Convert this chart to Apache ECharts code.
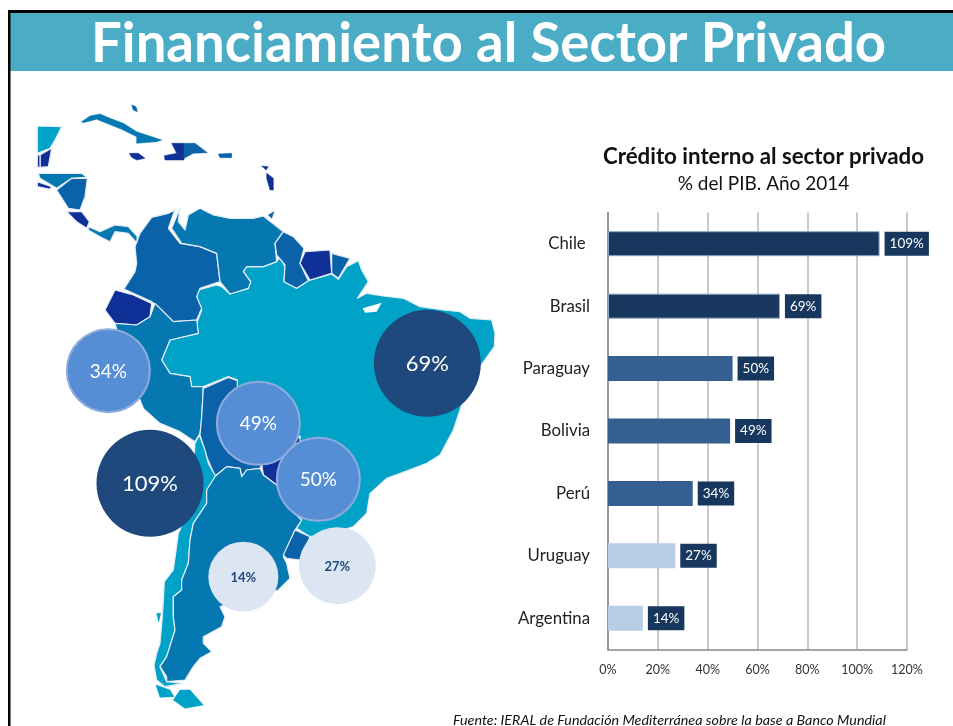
<!DOCTYPE html>
<html><head><meta charset="utf-8">
<style>html,body{margin:0;padding:0;background:#fff}#c{width:953px;height:726px}</style>
<script src="https://cdn.jsdelivr.net/npm/echarts@6/dist/echarts.min.js"></script>
</head><body><div id="c"></div>
<script>
// Bar chart data
const categories = ["Chile ","Brasil","Paraguay","Bolivia","Perú","Uruguay","Argentina"];
const creditValues = [109,69,50,49,34,27,14];
const barColors = ["#17375e","#17375e","#365f91","#365f91","#365f91","#b8cce4","#b8cce4"];
const xTicks = [0,20,40,60,80,100,120];

// Bubbles placed on the map (map units)
const bubbleLabels = ["34%","69%","49%","50%","109%","14%","27%"];
const bubbleX = [325,1282,775,955,450,730,1012];
const bubbleY = [1112,1090,1270,1438,1450,1730,1697];
const bubbleSizes = [83,107,83,83,107,70,77];
const bubbleColors = ["#558ed5","#1f497d","#558ed5","#558ed5","#1f497d","#dce6f2","#dce6f2"];

// Map outlines (map units: 3 per pixel)
const C1="#00a3c7",C2="#0577b1",C3="#0a62a9",C4="#0f3096";
const mapNames = ["Brasil","Colombia","Venezuela","Guyana","Surinam","Guayana Fr.","Ecuador","Perú","Bolivia","Paraguay","Chile","Argentina","Uruguay","México","Belice","Guatemala","Honduras","El Salvador","Nicaragua","Costa Rica","Panamá","Cuba","Jamaica","Haití","Rep. Dominicana","Puerto Rico","Bahamas","Antillas","Antillas 2","Trinidad","Tierra del Fuego","Isla Sur","Isla Chiloé"];
const mapFills = [C1,C3,C2,C3,C4,C3,C4,C2,C3,C4,C1,C2,C3,C1,C4,C4,C2,C4,C3,C4,C2,C2,C4,C4,C3,C3,C3,C4,C4,C3,C1,C1,C1];
const mapShapes = [
 [[595,870],[650,855],[665,860],[690,882],[745,865],[752,845],[730,815],[740,800],[790,800],[830,785],[840,770],[855,800],[852,845],[890,865],[925,842],[995,822],[1015,838],[1040,800],[1075,782],[1085,810],[1105,845],[1072,895],[1100,880],[1150,888],[1210,895],[1260,920],[1330,930],[1380,935],[1410,955],[1475,960],[1485,1000],[1483,1040],[1440,1100],[1400,1170],[1380,1230],[1360,1290],[1320,1365],[1280,1390],[1215,1415],[1160,1435],[1110,1480],[1100,1540],[1060,1580],[1000,1600],[930,1610],[890,1585],[905,1560],[860,1500],[830,1450],[900,1310],[712,1180],[712,1140],[685,1130],[610,1160],[575,1160],[570,1130],[510,1120],[485,1080],[510,1020],[595,1000],[590,970],[605,930],[590,890]],
 [[530,628],[505,640],[455,652],[420,700],[405,740],[410,790],[405,815],[372,867],[455,905],[475,920],[520,965],[590,960],[605,925],[590,890],[600,865],[660,845],[650,760],[600,740],[540,730],[505,685],[525,628]],
 [[540,625],[515,685],[545,730],[600,740],[650,760],[660,845],[690,882],[745,865],[752,845],[730,815],[740,800],[790,800],[830,785],[825,730],[850,695],[790,648],[760,655],[690,655],[640,645],[600,625],[565,645],[555,690],[535,665]],
 [[850,695],[825,730],[830,765],[855,795],[852,845],[890,865],[925,842],[900,790],[912,745],[880,710]],
 [[915,755],[990,750],[995,820],[930,840],[900,790]],
 [[995,760],[1050,775],[1015,835],[995,820]],
 [[345,870],[400,885],[455,910],[450,950],[410,975],[345,970],[315,930]],
 [[345,970],[410,975],[450,950],[465,910],[520,965],[590,960],[595,1000],[510,1020],[485,1080],[510,1120],[570,1130],[575,1160],[610,1160],[605,1260],[600,1300],[585,1325],[540,1295],[480,1270],[430,1225],[380,1100]],
 [[610,1165],[685,1132],[712,1142],[712,1180],[900,1310],[790,1385],[780,1405],[740,1410],[725,1430],[720,1405],[680,1400],[645,1428],[620,1370],[600,1305],[605,1250]],
 [[785,1390],[790,1425],[830,1455],[870,1470],[900,1380],[900,1310]],
 [[598,1305],[615,1350],[625,1390],[645,1425],[660,1432],[620,1470],[620,1510],[580,1570],[570,1620],[565,1690],[545,1740],[545,1770],[520,1790],[520,1850],[525,1890],[500,1970],[480,2000],[500,2045],[550,2050],[495,2060],[470,2040],[462,1995],[470,1960],[480,1930],[487,1850],[490,1800],[493,1745],[520,1710],[535,1600],[540,1590],[570,1500],[580,1400],[585,1330]],
 [[680,1400],[645,1430],[620,1470],[620,1510],[580,1570],[570,1620],[565,1690],[545,1740],[545,1770],[520,1790],[520,1850],[525,1890],[500,1970],[480,2000],[500,2030],[500,2045],[555,2040],[580,2000],[600,1975],[635,1955],[610,1930],[610,1910],[665,1880],[675,1850],[660,1820],[835,1770],[870,1735],[860,1690],[850,1670],[885,1590],[905,1560],[860,1520],[830,1455],[790,1425],[780,1405],[740,1410],[725,1430],[720,1405]],
 [[885,1590],[930,1610],[900,1680],[860,1675],[850,1665]],
 [[112,378],[185,380],[165,420],[150,445],[112,460]],
 [[120,465],[155,445],[145,500],[120,502]],
 [[112,465],[120,465],[120,502],[112,502]],
 [[115,520],[245,520],[260,532],[215,535],[170,565],[120,535]],
 [[112,545],[155,560],[150,568],[112,560]],
 [[170,570],[215,535],[262,535],[255,590],[240,630],[205,625]],
 [[200,635],[245,635],[268,665],[260,685],[230,665]],
 [[265,680],[300,695],[345,675],[385,680],[412,710],[410,728],[385,700],[345,695],[330,725],[300,710],[265,690]],
 [[245,365],[270,348],[300,342],[330,355],[370,370],[410,395],[485,420],[470,425],[410,430],[410,410],[365,388],[320,370],[290,358],[250,368]],
 [[388,460],[415,460],[435,475],[410,480],[395,472]],
 [[515,430],[552,430],[552,480],[495,480],[493,467],[530,460]],
 [[552,430],[585,430],[622,458],[580,460],[552,475]],
 [[655,462],[695,460],[695,473],[660,473]],
 [[395,315],[408,320],[412,335],[400,330]],
 [[785,498],[805,500],[798,510]],
 [[800,520],[820,535],[820,570],[810,570],[800,535]],
 [[805,645],[822,635],[815,655]],
 [[540,2070],[570,2070],[610,2115],[555,2125],[520,2100]],
 [[468,2055],[510,2070],[522,2090],[480,2092]],
 [[470,1840],[482,1840],[476,1866]]
];
const mapBorderedCount = 21; // shapes after this are islands, without border
const deltaShape = [[1088,925],[1145,908],[1130,935],[1095,938]];

const chart = echarts.init(document.getElementById('c'),null,{renderer:'canvas'});
const font = "Lato";
chart.setOption({
 animation:false,
 backgroundColor:'#fff',
 textStyle:{fontFamily:font},
 graphic:[
  {type:'rect',z:0,shape:{x:10,y:13,width:943,height:58},style:{fill:'#4bacc6'}},
  {type:'rect',z:1,shape:{x:8,y:10,width:945,height:3},style:{fill:'#000'}},
  {type:'rect',z:1,shape:{x:8,y:10,width:2.5,height:716},style:{fill:'#000'}},
  {type:'text',z:8,left:91,top:17,style:{text:'Financiamiento al Sector Privado',fill:'#fff',font:'bold 54.5px '+font}}
 ],
 title:[
  {text:'Crédito interno al sector privado',left:758.5,top:141,textAlign:'center',textStyle:{fontFamily:font,fontSize:22.3,fontWeight:'bold',color:'#111'}},
  {text:'% del PIB. Año 2014',left:758.5,top:169,textAlign:'center',textStyle:{fontFamily:font,fontSize:19,fontWeight:'normal',color:'#111'}},
  {text:'Fuente: IERAL de Fundación Mediterránea sobre la base a Banco Mundial',left:448,top:708,textStyle:{fontFamily:font,fontSize:14.3,fontWeight:'normal',fontStyle:'italic',color:'#111'}}
 ],
 grid:[
  {left:0,top:0,width:953,height:726,containLabel:false},
  {left:608,top:212.5,width:299,height:437,containLabel:false}
 ],
 xAxis:[
  {gridIndex:0,type:'value',min:0,max:2859,show:false},
  {gridIndex:1,type:'value',min:0,max:120,interval:20,
   axisLine:{show:true,lineStyle:{color:'#868686',width:1.5}},axisTick:{show:false},
   axisLabel:{fontSize:12.5,color:'#333',margin:14,formatter:v=>xTicks.includes(v)?v+'%':''},
   splitLine:{show:true,lineStyle:{color:'#b8b8b8',width:1.5}}}
 ],
 yAxis:[
  {gridIndex:0,type:'value',min:0,max:2178,inverse:true,show:false},
  {gridIndex:1,type:'category',inverse:true,data:categories,
   axisLine:{show:true,lineStyle:{color:'#868686',width:1.5}},axisTick:{show:false},
   axisLabel:{fontSize:16.8,color:'#222',margin:18}}
 ],
 series:[
  {type:'custom',xAxisIndex:0,yAxisIndex:0,z:2,silent:true,clip:false,
   data:mapNames.map((n,i)=>({name:n,value:[i,i]})),
   renderItem:(p,api)=>({type:'group',children:[
     {type:'polygon',shape:{points:mapShapes[p.dataIndex].map(q=>api.coord(q))},
      style:{fill:mapFills[p.dataIndex],stroke:p.dataIndex<mapBorderedCount?'#e4edf5':mapFills[p.dataIndex],lineWidth:p.dataIndex<mapBorderedCount?1.2:0.5,lineJoin:'round'}},
     ...(p.dataIndex===0?[{type:'polygon',shape:{points:deltaShape.map(q=>api.coord(q))},style:{fill:'#fff'}}]:[])
   ]})},
  {type:'bar',xAxisIndex:1,yAxisIndex:1,z:3,barWidth:25,
   data:creditValues.map((v,i)=>({value:v,itemStyle:{color:barColors[i],borderColor:i<2?'#8ea5c2':barColors[i],borderWidth:i<2?1:0}})),
   label:{show:true,position:'right',distance:5,formatter:'{c}%',color:'#fff',fontSize:13.5,fontFamily:font,
     backgroundColor:'#17375e',padding:[5,5,5,5],lineHeight:14}},
  {type:'scatter',xAxisIndex:0,yAxisIndex:0,z:5,silent:true,clip:false,
   data:bubbleLabels.map((l,i)=>({
     value:[bubbleX[i],bubbleY[i]],name:l,symbolSize:bubbleSizes[i],
     itemStyle:{color:bubbleColors[i],opacity:1,borderColor:bubbleColors[i]==='#558ed5'?'#8faadc':bubbleColors[i],borderWidth:bubbleColors[i]==='#558ed5'?2:0},
     label:{show:true,position:'inside',offset:[0,1],formatter:l,
       color:bubbleColors[i]==='#dce6f2'?'#1f497d':'#fff',
       fontWeight:bubbleColors[i]==='#dce6f2'?'bold':'normal',
       fontSize:bubbleColors[i]==='#dce6f2'?13:(bubbleColors[i]==='#1f497d'?22:19),fontFamily:font}
   }))}
 ]
});
</script></body></html>
